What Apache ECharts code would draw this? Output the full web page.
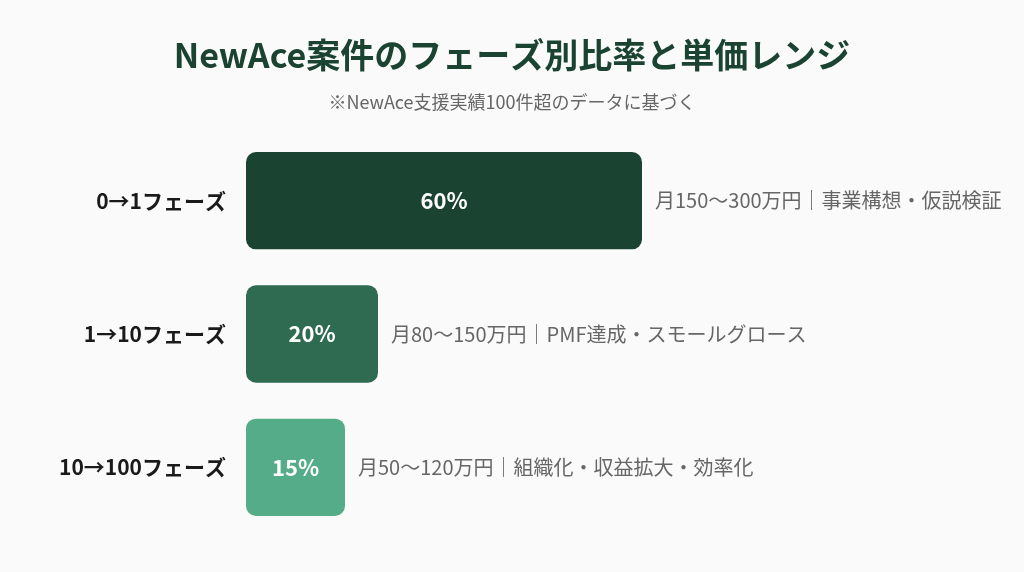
<!DOCTYPE html>
<html>
<head>
<meta charset="utf-8">
<script src="https://cdn.jsdelivr.net/npm/echarts@6/dist/echarts.min.js"></script>
<style>
html,body{margin:0;padding:0;background:#fafafa;}
#chart{width:1024px;height:572px;}
</style>
</head>
<body>
<div id="chart"></div>
<script>
const titleText = 'NewAce案件のフェーズ別比率と単価レンジ';
const subtitleText = '※NewAce支援実績100件超のデータに基づく';
const categories = ['0→1フェーズ', '1→10フェーズ', '10→100フェーズ'];
const shares = [60, 20, 15];
const priceRanges = ['月150〜300万円', '月80〜150万円', '月50〜120万円'];
const focusAreas = ['事業構想・仮説検証', 'PMF達成・スモールグロース', '組織化・収益拡大・効率化'];
const barColors = ['#1b4332', '#2e6b50', '#55ac88'];

const FONT = '"Noto Sans CJK JP", "Noto Sans", sans-serif';
const chart = echarts.init(document.getElementById('chart'));

const barData = shares.map((v, i) => ({
  value: v,
  itemStyle: { color: barColors[i] }
}));

chart.setOption({
  backgroundColor: '#fafafa',
  title: [
    {
      text: titleText,
      left: 'center',
      top: 30,
      textStyle: { fontFamily: FONT, fontSize: 34, fontWeight: 'bold', color: '#1b4332', lineHeight: 40 }
    },
    {
      text: subtitleText,
      left: 'center',
      top: 86,
      textStyle: { fontFamily: FONT, fontSize: 18, fontWeight: 'normal', color: '#666666', lineHeight: 22 }
    }
  ],
  grid: { left: 246, right: 118, top: 134, bottom: 38, containLabel: false },
  xAxis: {
    type: 'value',
    min: 0,
    max: 100,
    show: false
  },
  yAxis: {
    type: 'category',
    data: categories,
    inverse: true,
    axisLine: { show: false },
    axisTick: { show: false },
    splitLine: { show: false },
    axisLabel: {
      margin: 20,
      fontFamily: FONT,
      fontSize: 21,
      fontWeight: 'bold',
      color: '#1a1a1a'
    }
  },
  series: [
    {
      type: 'bar',
      data: barData,
      barCategoryGap: '27%',
      barGap: '-100%',
      itemStyle: { borderRadius: 10 },
      label: {
        show: true,
        position: 'inside',
        formatter: p => p.value + '%',
        fontFamily: FONT,
        fontSize: 22,
        fontWeight: 'bold',
        color: '#ffffff'
      },
      silent: true,
      z: 2
    },
    {
      type: 'bar',
      data: shares,
      barCategoryGap: '27%',
      barGap: '-100%',
      itemStyle: { color: 'rgba(0,0,0,0)' },
      label: {
        show: true,
        position: 'right',
        distance: 13,
        formatter: p => priceRanges[p.dataIndex] + '｜' + focusAreas[p.dataIndex],
        fontFamily: FONT,
        fontSize: 20,
        color: '#666666'
      },
      silent: true,
      z: 1
    }
  ]
});
</script>
</body>
</html>
